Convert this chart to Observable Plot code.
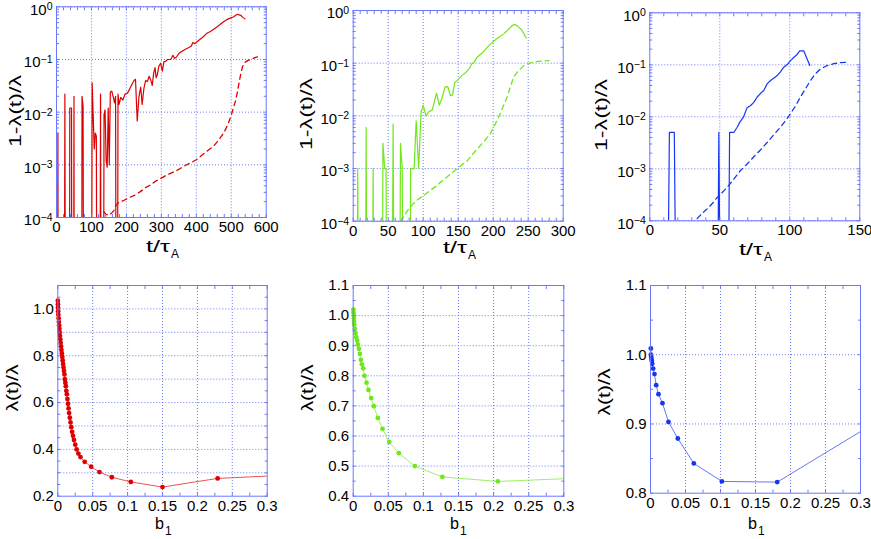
<!DOCTYPE html>
<html><head><meta charset="utf-8">
<script src="https://cdn.jsdelivr.net/npm/d3@7"></script>
<script src="https://cdn.jsdelivr.net/npm/@observablehq/plot@0.6"></script>
<style>
body{margin:0;background:#fff;width:871px;height:539px;overflow:hidden;position:relative;font-family:"Liberation Sans",Arial,sans-serif}
#ov{position:absolute;left:0;top:0;pointer-events:none}
</style></head><body>
<script>
// ---------- data ----------
const p1SolidT = [0,3,4,5,22,24,26,37,38,43,44,49,50,51,72,73,76,78,100,102,108,111,114,116,124,126,128,134,136,139,142,145,148,151,154,158,162,166,169,171,174,176,179,184,190,196,203,210,217,222,226,231,236,241,245,250,255,260,265,270,274,278,282,285,288,293,298,303,307,312,318,327,333,338,343,350,357,364,372,380,386,390,396,403,410,420,429,440,449,458,468,478,487,497,506,513,518,522,527,533,539];
const p1SolidV = [0,0,0.004,0,0,0.022,0,0,0.012,0.012,0,0,0.02,0,0,0.02,0.013,0,0,0.036,0.002,0.004,0.0035,0,0,0.022,0,0,0.009,0.011,0.0012,0.0009,0.012,0.001,0.024,0.025,0.02,0.015,0.02,0,0,0.022,0.014,0.019,0.017,0.022,0.023,0.028,0.035,0.04,0.042,0.0068,0.02,0.03,0.014,0.028,0.04,0.038,0.048,0.04,0.032,0.055,0.07,0.045,0.05,0.075,0.085,0.06,0.09,0.092,0.1,0.1,0.12,0.105,0.11,0.13,0.14,0.15,0.16,0.17,0.18,0.21,0.2,0.22,0.24,0.27,0.31,0.34,0.37,0.41,0.46,0.52,0.57,0.61,0.64,0.69,0.72,0.7,0.69,0.63,0.59];
const p1DashT = [135,142,150,157,164,170,176,185,198,212,226,240,255,270,284,298,312,326,341,355,368,385,400,415,430,450,465,480,490,499,506,513,518,522,527,532,537,541,548,556,563,570,575];
const p1DashV = [1.3e-4,1.15e-4,1.1e-4,1.2e-4,1.35e-4,1.7e-4,1.9e-4,2.0e-4,2.2e-4,2.45e-4,2.7e-4,3.1e-4,3.7e-4,4.2e-4,4.9e-4,5.5e-4,6.2e-4,6.9e-4,7.6e-4,8.6e-4,9.7e-4,1.1e-3,1.25e-3,1.5e-3,1.8e-3,2.3e-3,3.0e-3,4.2e-3,5.8e-3,8.3e-3,0.012,0.017,0.025,0.035,0.052,0.072,0.085,0.09,0.096,0.1,0.105,0.11,0.112];

const p2SolidT = [5,6.5,8,17,18.5,20,27,28.5,30,41,42.5,45,47,48,55,57,59,66,67.5,70,72,81,82,87,90,93.5,97,100,104,108,113,119,123,127,131,135,139,142,145,149,155,160,166,170,172,177,185,196,205,215,222,228,231,235,240,244,247];
const p2SolidV = [0,0.001,0,0,0.006,0,0,0.001,0,0,0.003,0.001,0.001,0,0,0.007,0,0,0.003,0.001,0,0,0.001,0.001,0.008,0.001,0.012,0.016,0.01,0.012,0.013,0.027,0.016,0.022,0.035,0.036,0.024,0.025,0.043,0.047,0.058,0.065,0.08,0.1,0.1,0.13,0.16,0.23,0.29,0.36,0.44,0.53,0.54,0.5,0.44,0.36,0.3];
const p2DashT = [68,72,79,85,91,98,105,112,120,127,134,141,149,156,163,171,179,188,196,203,210,215,220,225,229,234,239,244,249,256,263,272,280];
const p2DashV = [1.0e-4,1.2e-4,1.7e-4,2.1e-4,2.5e-4,2.9e-4,3.4e-4,4e-4,4.8e-4,5.8e-4,6.9e-4,8.3e-4,1e-3,1.2e-3,1.4e-3,1.9e-3,2.5e-3,3.4e-3,4.6e-3,7e-3,0.011,0.016,0.023,0.037,0.054,0.066,0.078,0.09,0.097,0.104,0.108,0.11,0.112];

const p3SolidT = [12,14,17.5,19.5,48,49.3,51,55.5,57,60,62.4,64.3,67,69.5,72,74.3,76.7,79,81.4,83.8,86.2,88.5,91,93.3,95.7,98,100.5,103,105.2,107.1,110,114.3];
const p3SolidV = [0,0.005,0.005,0,0,0.005,0,0,0.005,0.005,0.0063,0.0079,0.01,0.015,0.0165,0.019,0.024,0.028,0.032,0.043,0.05,0.055,0.062,0.073,0.09,0.1,0.12,0.14,0.158,0.185,0.185,0.097];
const p3DashT = [33.8,37,41,45,48,50,53,56.4,60,64.8,69,74.3,79,83.8,88.5,93.3,97,100.5,104,107.6,111,114.8,118,121.9,126,131.4,136,141];
const p3DashV = [1.1e-4,1.35e-4,1.7e-4,2.2e-4,2.8e-4,3.1e-4,3.8e-4,4.8e-4,6.3e-4,9.3e-4,1.2e-3,1.7e-3,2.3e-3,3.2e-3,4.5e-3,6.3e-3,8.5e-3,0.0115,0.016,0.024,0.034,0.05,0.066,0.083,0.095,0.105,0.11,0.112];

// bottom panels: last entry is the line end (no marker)
const p4B = [0,0.0002,0.0003,0.0005,0.0008,0.0012,0.0015,0.0019,0.0023,0.0027,0.0031,0.0036,0.0041,0.0046,0.0052,0.0058,0.0064,0.0070,0.0076,0.0082,0.0089,0.0095,0.0101,0.0108,0.0115,0.0122,0.0130,0.0138,0.0146,0.0154,0.0162,0.0172,0.0182,0.0193,0.0205,0.0218,0.0232,0.0250,0.0270,0.0295,0.0325,0.0385,0.0478,0.0597,0.0774,0.1046,0.15,0.229,0.3];
const p4L = [1.035,1.02,1.005,0.99,0.975,0.96,0.945,0.93,0.915,0.90,0.885,0.87,0.855,0.84,0.825,0.81,0.795,0.78,0.765,0.75,0.735,0.72,0.70,0.685,0.67,0.65,0.635,0.615,0.595,0.575,0.555,0.535,0.515,0.495,0.475,0.458,0.44,0.42,0.40,0.382,0.367,0.347,0.326,0.303,0.281,0.261,0.239,0.276,0.286];
const p5B = [0.0003,0.0005,0.0007,0.001,0.0012,0.0015,0.0024,0.0033,0.0043,0.0057,0.0066,0.0081,0.0095,0.0109,0.0123,0.0142,0.0161,0.019,0.0218,0.0256,0.0294,0.0351,0.0418,0.0513,0.065,0.0878,0.127,0.206,0.3];
const p5L = [1.02,1.01,1.0,0.99,0.98,0.97,0.956,0.942,0.928,0.917,0.904,0.89,0.873,0.853,0.838,0.825,0.80,0.777,0.753,0.726,0.699,0.66,0.624,0.58,0.543,0.50,0.464,0.449,0.458];
const p6B = [0.0005,0.0005,0.001,0.0014,0.0019,0.0024,0.0038,0.0057,0.0081,0.0114,0.0171,0.0257,0.039,0.0619,0.102,0.181,0.3];
const p6L = [1.009,1.0,0.997,0.994,0.991,0.987,0.98,0.972,0.956,0.943,0.93,0.903,0.879,0.843,0.817,0.816,0.889];

const logTicks = [1e-4,1e-3,1e-2,1e-1,1];
const bTicks = [0,0.05,0.1,0.15,0.2,0.25,0.3];

// ---------- style ----------
const FONT = "Liberation Sans, Arial, sans-serif";
const FRAME = "#6b77ff";
const GRID = "#5d6ef2";
const RED = "#dd0000", GREEN = "#6fe81a", BLUE = "#1537f5";

const zip = (a, b) => a.slice(0, Math.min(a.length, b.length)).map((x, i) => ({x, y: b[i]}));
const floorLog = d => (d.y > 0 ? d.y : 1e-8);

const logMinor = [];
for (let e = -4; e < 0; e++) for (let m = 1; m <= 9; m++) logMinor.push(m * Math.pow(10, e));
logMinor.push(1);

function range(a, b, s) { const r = []; for (let v = a; v <= b + 1e-9; v += s) r.push(+v.toFixed(6)); return r; }

function panel(o) {
  const svg = Plot.plot({
    width: o.width, height: o.height,
    marginLeft: o.ml, marginRight: o.mr, marginTop: o.mt, marginBottom: o.mb,
    style: {fontFamily: FONT, fontSize: "15px", color: "#000", background: "transparent", overflow: "visible"},
    x: {domain: o.xDomain, label: null},
    y: {domain: o.yDomain, type: o.yType || "linear", label: null},
    marks: [
      Plot.gridX({ticks: o.xGrid, stroke: GRID, strokeOpacity: 0.9, strokeDasharray: "1,2"}),
      Plot.gridY({ticks: o.yGrid, stroke: GRID, strokeOpacity: 0.9, strokeDasharray: "1,2"}),
      ...o.marks,
      Plot.frame({stroke: FRAME, strokeWidth: 1}),
      Plot.axisX({ticks: o.xMinor, anchor: "bottom", tickSize: -3, tickFormat: () => "", stroke: FRAME}),
      Plot.axisX({ticks: o.xMinor, anchor: "top", tickSize: -3, tickFormat: () => "", stroke: FRAME}),
      Plot.axisY({ticks: o.yMinor, anchor: "left", tickSize: -3, tickFormat: () => "", stroke: FRAME}),
      Plot.axisY({ticks: o.yMinor, anchor: "right", tickSize: -3, tickFormat: () => "", stroke: FRAME}),
      Plot.axisX({ticks: o.xTicks, anchor: "bottom", tickSize: 0, tickPadding: 4, tickFormat: o.xFmt, fontSize: 15}),
      Plot.axisY({ticks: o.yTicks, anchor: "left", tickSize: 0, tickPadding: 4, tickFormat: o.yFmt, fontSize: 15, dy: o.yDy || 0})
    ]
  });
  svg.style.position = "absolute";
  svg.style.left = o.left + "px";
  svg.style.top = o.top + "px";
  // superscripts for 10^k labels
  d3.select(svg).selectAll("text").each(function () {
    const s = this.textContent;
    if (s.includes("^")) {
      const [b, e] = s.split("^");
      this.textContent = "";
      const ns = "http://www.w3.org/2000/svg";
      const t1 = document.createElementNS(ns, "tspan"); t1.textContent = b; this.appendChild(t1);
      const t2 = document.createElementNS(ns, "tspan"); t2.textContent = e.replace("-", "\u2212");
      t2.setAttribute("dy", "-0.4em"); t2.setAttribute("font-size", "10.5"); this.appendChild(t2);
    }
  });
  document.body.appendChild(svg);
}

const logFmt = d => "10^" + Math.round(Math.log10(d));
const bFmt = d => String(+d.toFixed(2));

function topMarks(sT, sV, dT, dV, color) {
  return [
    Plot.line(zip(dT, dV), {x: "x", y: floorLog, stroke: color, strokeWidth: 1.3, strokeDasharray: "5,4", clip: true}),
    Plot.line(zip(sT, sV), {x: "x", y: floorLog, stroke: color, strokeWidth: 1.2, clip: true})
  ];
}
function botMarks(B, L, color) {
  const all = zip(B, L);
  return [
    Plot.line(all, {x: "x", y: "y", stroke: color, strokeWidth: 0.9, strokeOpacity: 0.75, clip: true}),
    Plot.dot(all.slice(0, -1), {x: "x", y: "y", r: 2.4, fill: color, stroke: "none"})
  ];
}

// top row
panel({left: 0, top: 0, width: 290, height: 270, ml: 56, mr: 24.3, mt: 6.3, mb: 53,
  xDomain: [0, 600], yDomain: [1e-4, 1], yType: "log", yDy: 3,
  xGrid: range(100, 500, 100), yGrid: logTicks, xTicks: range(0, 600, 100), yTicks: logTicks,
  xMinor: range(0, 600, 20), yMinor: logMinor, xFmt: d => String(d), yFmt: logFmt,
  marks: topMarks(p1SolidT, p1SolidV, p1DashT, p1DashV, RED)});
panel({left: 290, top: 0, width: 290, height: 270, ml: 62.7, mr: 17.3, mt: 10, mb: 49.3,
  xDomain: [0, 300], yDomain: [1e-4, 1], yType: "log", yDy: 3,
  xGrid: range(50, 250, 50), yGrid: logTicks, xTicks: range(0, 300, 50), yTicks: logTicks,
  xMinor: range(0, 300, 10), yMinor: logMinor, xFmt: d => String(d), yFmt: logFmt,
  marks: topMarks(p2SolidT, p2SolidV, p2DashT, p2DashV, GREEN)});
panel({left: 580, top: 0, width: 291, height: 270, ml: 69.3, mr: 11.7, mt: 12.3, mb: 49.7,
  xDomain: [0, 150], yDomain: [1e-4, 1], yType: "log", yDy: 3,
  xGrid: [50, 100], yGrid: logTicks, xTicks: range(0, 150, 50), yTicks: logTicks,
  xMinor: range(0, 150, 10), yMinor: logMinor, xFmt: d => String(d), yFmt: logFmt,
  marks: topMarks(p3SolidT, p3SolidV, p3DashT, p3DashV, BLUE)});

// bottom row
panel({left: 0, top: 270, width: 290, height: 269, ml: 57.3, mr: 23.3, mt: 15, mb: 43.3,
  xDomain: [0, 0.3], yDomain: [0.2, 1.1],
  xGrid: bTicks.slice(1, -1), yGrid: range(0.3, 1.0, 0.1), xTicks: bTicks, yTicks: range(0.2, 1.0, 0.2),
  xMinor: range(0, 0.3, 0.025), yMinor: range(0.2, 1.1, 0.05), xFmt: bFmt, yFmt: d => d.toFixed(1),
  marks: botMarks(p4B, p4L, RED)});
panel({left: 290, top: 270, width: 290, height: 269, ml: 62.7, mr: 16.7, mt: 15, mb: 43.3,
  xDomain: [0, 0.3], yDomain: [0.4, 1.1],
  xGrid: bTicks.slice(1, -1), yGrid: range(0.5, 1.0, 0.1), xTicks: bTicks, yTicks: range(0.4, 1.1, 0.1),
  xMinor: range(0, 0.3, 0.025), yMinor: range(0.4, 1.1, 0.05), xFmt: bFmt, yFmt: d => d.toFixed(1),
  marks: botMarks(p5B, p5L, GREEN)});
panel({left: 580, top: 270, width: 291, height: 269, ml: 70, mr: 11, mt: 15, mb: 46.3,
  xDomain: [0, 0.3], yDomain: [0.8, 1.1],
  xGrid: bTicks.slice(1, -1), yGrid: [0.9, 1.0], xTicks: bTicks, yTicks: [0.8, 0.9, 1.0, 1.1],
  xMinor: range(0, 0.3, 0.025), yMinor: range(0.8, 1.1, 0.05), xFmt: bFmt, yFmt: d => d.toFixed(1),
  marks: botMarks(p6B, p6L, BLUE)});

// ---------- axis titles ----------
const ov = d3.select("body").append("svg").attr("id", "ov").attr("width", 871).attr("height", 539)
  .style("font-family", FONT).style("fill", "#000");
function yTitle(x, y, txt, len) {
  ov.append("text").attr("transform", `translate(${x},${y}) rotate(-90)`)
    .attr("text-anchor", "middle").attr("dy", "0.35em").attr("font-size", 16)
    .attr("textLength", len).attr("lengthAdjust", "spacingAndGlyphs").text(txt);
}
function xTitle(x, y, main, sub, len) {
  const t = ov.append("text").attr("x", x).attr("y", y).attr("font-size", 17);
  t.append("tspan").text(main).attr("textLength", len).attr("lengthAdjust", "spacingAndGlyphs");
  t.append("tspan").text(sub).attr("font-size", 12).attr("dy", 6).attr("dx", 1);
}
yTitle(15, 111, "1-\u03bb(t)/\u03bb", 72);
yTitle(306, 114, "1-\u03bb(t)/\u03bb", 72);
yTitle(601, 115, "1-\u03bb(t)/\u03bb", 72);
yTitle(12, 388, "\u03bb(t)/\u03bb", 47);
yTitle(307, 388, "\u03bb(t)/\u03bb", 47);
yTitle(604, 392, "\u03bb(t)/\u03bb", 47);
xTitle(146, 252, "t/\u03c4", "A", 24);
xTitle(443, 253, "t/\u03c4", "A", 24);
xTitle(739, 255, "t/\u03c4", "A", 24);
xTitle(155, 529, "b", "1", 9);
xTitle(450, 529, "b", "1", 9);
xTitle(748, 529, "b", "1", 9);
</script>
</body></html>
